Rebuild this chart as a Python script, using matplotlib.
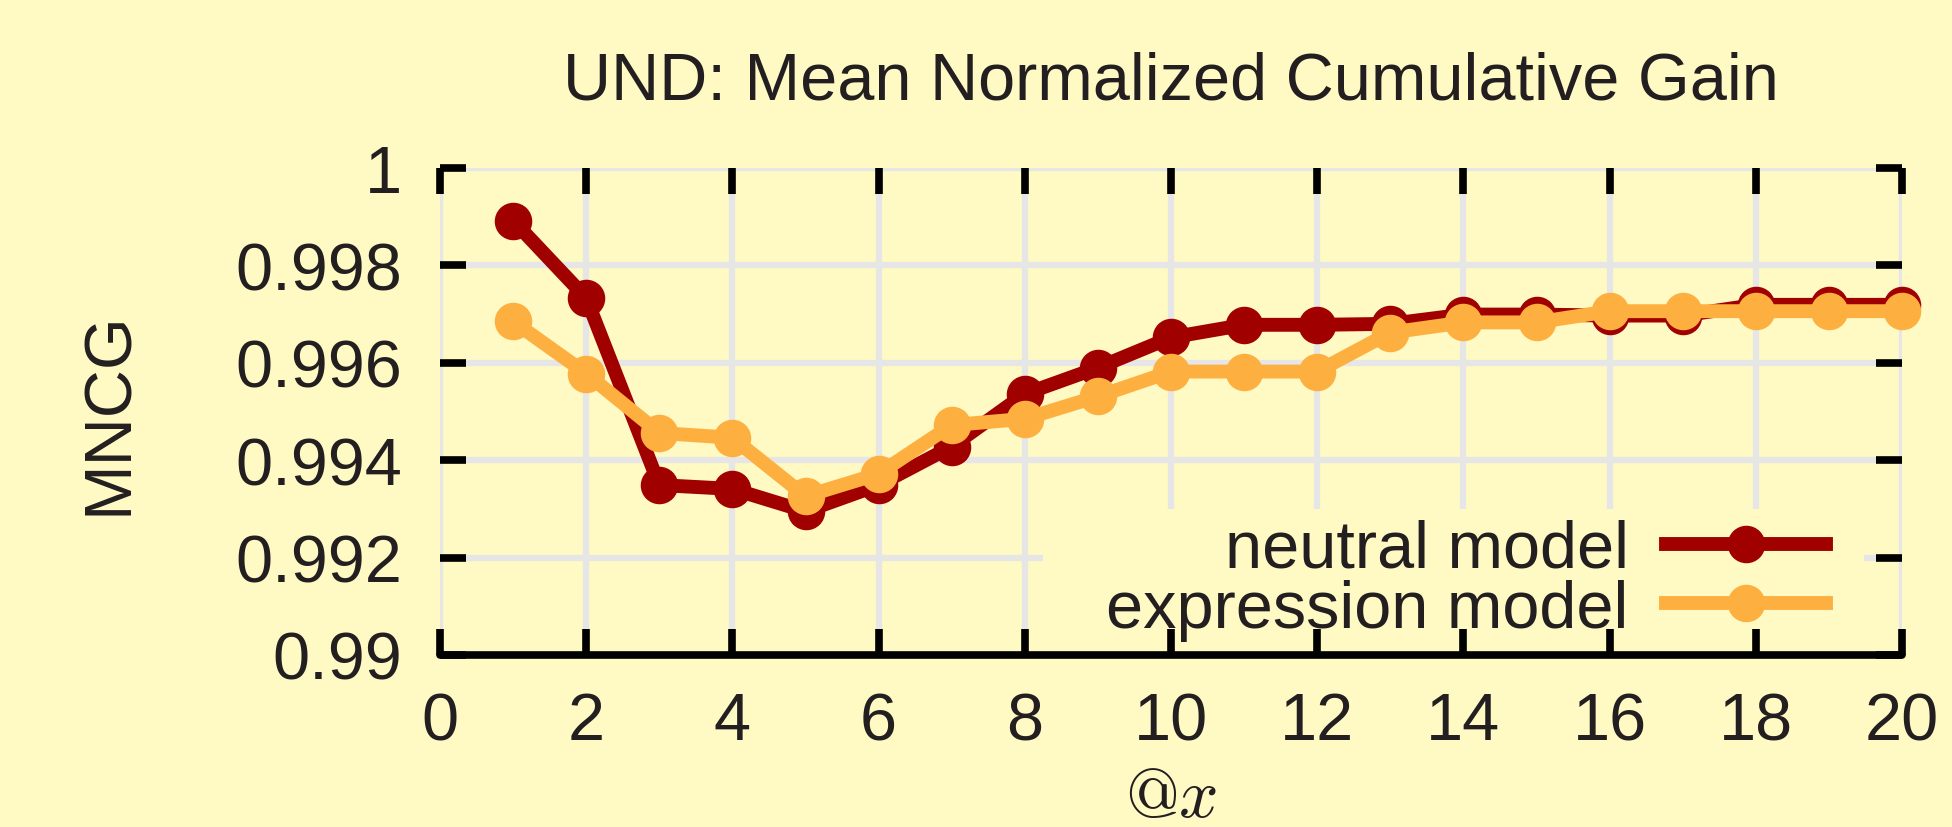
import matplotlib
matplotlib.use('Agg')
import matplotlib.pyplot as plt
from matplotlib.patches import Rectangle
import numpy as np

# data
at_x = list(range(1, 21))
neutral = [0.99892, 0.99733, 0.99349, 0.99341, 0.99295, 0.99349, 0.99428, 0.99536,
           0.99590, 0.99652, 0.99678, 0.99678, 0.99680, 0.99699, 0.99699, 0.99697,
           0.99697, 0.99719, 0.99719, 0.99719]
expression = [0.99685, 0.99578, 0.99456, 0.99446, 0.99326, 0.99372, 0.99472, 0.99485,
              0.99531, 0.99582, 0.99582, 0.99582, 0.99662, 0.99683, 0.99683, 0.99706,
              0.99706, 0.99706, 0.99706, 0.99706]
series_names = ['neutral model', 'expression model']
series_colors = ['#a00000', '#fdb040']
x_ticks = list(range(0, 21, 2))
y_ticks = [0.99, 0.992, 0.994, 0.996, 0.998, 1.0]
y_ticklabels = ['0.99', '0.992', '0.994', '0.996', '0.998', '1']

bg = '#fff9c4'
ink = '#231f20'
grid_col = '#e6e6e6'
W, H = 1952, 828

plt.rcParams['font.family'] = ['Liberation Sans', 'DejaVu Sans']
plt.rcParams['mathtext.fontset'] = 'cm'

fig = plt.figure(figsize=(W / 100, H / 100), dpi=100, facecolor=bg)
ax = fig.add_axes([440 / W, 1 - 656 / H, 1462 / W, 487 / H])
ax.set_facecolor(bg)

for ys, name, col in zip([neutral, expression], series_names, series_colors):
    ax.plot(at_x, ys, color=col, lw=10, marker='o', ms=26, label=name,
            clip_on=False, zorder=3)

ax.set_xlim(0, 20)
ax.set_ylim(0.99, 1.0)
ax.set_xticks(x_ticks)
ax.set_yticks(y_ticks)
ax.set_yticklabels(y_ticklabels)

# grid drawn by hand so the legend box can mask it without hiding the ticks
for v in x_ticks:
    ax.axvline(v, color=grid_col, lw=4.5, zorder=0.2)
for v in y_ticks:
    ax.axhline(v, color=grid_col, lw=4.5, zorder=0.2)
ax.add_patch(Rectangle((0.4125, 0), 0.5615, 0.30, transform=ax.transAxes,
                       facecolor=bg, edgecolor='none', zorder=0.4))
ax.set_axisbelow(True)

for side in ['top', 'right', 'left']:
    ax.spines[side].set_visible(False)
ax.spines['bottom'].set_linewidth(5.5)
ax.spines['bottom'].set_color('black')
ax.spines['bottom'].set_capstyle('round')

ax.tick_params(direction='in', length=19, width=5.5, color='black',
               top=True, right=True, labelsize=48, labelcolor=ink)
ax.tick_params(axis='x', pad=26)
ax.tick_params(axis='y', pad=27)

leg = ax.legend(loc='lower right', bbox_to_anchor=(0.9705, -0.039), fontsize=48,
                markerfirst=False, frameon=False, handlelength=2.4,
                handletextpad=0.55, labelspacing=-0.035, borderpad=0)
for t in leg.get_texts():
    t.set_color(ink)

fig.text(1171 / W, 1 - 99 / H, 'UND: Mean Normalized Cumulative Gain',
         ha='center', va='baseline', fontsize=48, color=ink)
fig.text(110 / W, 1 - 413 / H, 'MNCG', rotation=90, ha='center', va='center',
         fontsize=48, color=ink)
fig.text(1171 / W, 1 - 799 / H, r'$@x$', ha='center', va='center',
         fontsize=50, color=ink)

fig.savefig('out.png', dpi=100, facecolor=bg)
